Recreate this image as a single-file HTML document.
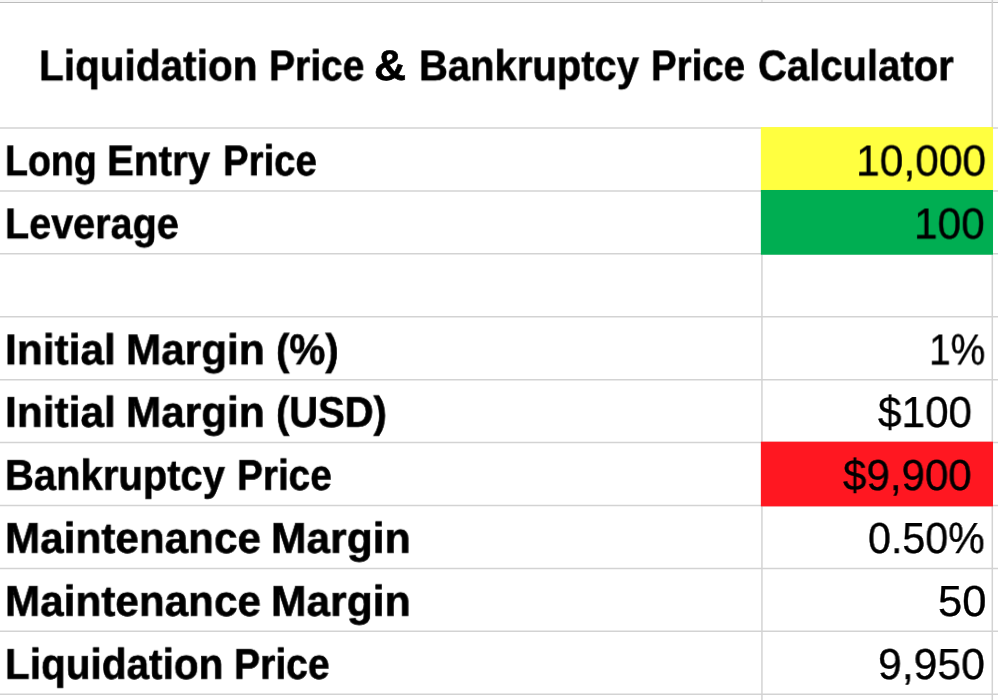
<!DOCTYPE html>
<html><head><meta charset="utf-8"><style>
html,body{margin:0;padding:0;background:#fff;}
body{width:998px;height:700px;position:relative;overflow:hidden;font-family:"Liberation Sans",sans-serif;color:#000;}
.t{position:absolute;white-space:nowrap;line-height:1;text-rendering:geometricPrecision;transform-origin:0 50%;will-change:transform;}
.t{-webkit-text-stroke:0.4px #000;}
.b{font-weight:bold;-webkit-text-stroke:0.6px #000;}
.f{position:absolute;left:0;top:0;}
</style></head><body>

<svg class="f" width="998" height="700"><rect x="0" y="0" width="998" height="2" fill="#f6f6f6"/><rect x="0" y="2" width="998" height="1" fill="#bcbcbc"/><line x1="0" y1="127.97" x2="998" y2="127.97" stroke="#d3d3d3" stroke-width="1.5"/><line x1="0" y1="190.89" x2="998" y2="190.89" stroke="#d3d3d3" stroke-width="1.5"/><line x1="0" y1="253.81" x2="998" y2="253.81" stroke="#d3d3d3" stroke-width="1.5"/><line x1="0" y1="316.73" x2="998" y2="316.73" stroke="#d3d3d3" stroke-width="1.5"/><line x1="0" y1="379.65" x2="998" y2="379.65" stroke="#d3d3d3" stroke-width="1.5"/><line x1="0" y1="442.57" x2="998" y2="442.57" stroke="#d3d3d3" stroke-width="1.5"/><line x1="0" y1="505.49" x2="998" y2="505.49" stroke="#d3d3d3" stroke-width="1.5"/><line x1="0" y1="568.41" x2="998" y2="568.41" stroke="#d3d3d3" stroke-width="1.5"/><line x1="0" y1="631.33" x2="998" y2="631.33" stroke="#d3d3d3" stroke-width="1.5"/><line x1="0" y1="694.25" x2="998" y2="694.25" stroke="#d3d3d3" stroke-width="1.5"/><line x1="761.94" y1="0" x2="761.94" y2="2" stroke="#d8d8d8" stroke-width="1.5"/><line x1="761.94" y1="127.97" x2="761.94" y2="700" stroke="#d3d3d3" stroke-width="1.5"/><line x1="992.3" y1="0" x2="992.3" y2="700" stroke="#d3d3d3" stroke-width="1.5"/><rect x="760.86" y="127.07" width="232.14" height="64.72" fill="#ffff40"/><rect x="760.86" y="189.99" width="232.14" height="64.72" fill="#00ae52"/><rect x="760.86" y="441.67" width="232.14" height="64.72" fill="#ff1721"/></svg>
<div class="t b" style="left:38.64px;top:45px;font-size:43.0px;transform:translateY(0.30px) scaleX(0.9426)">Liquidation</div>
<div class="t b" style="left:268.55px;top:45px;font-size:43.0px;transform:translateY(0.30px) scaleX(0.9075)">Price</div>
<div class="t b" style="left:374.38px;top:45px;font-size:43.0px;transform:translateY(0.30px) scaleX(1.0352)">&amp;</div>
<div class="t b" style="left:419.18px;top:45px;font-size:43.0px;transform:translateY(0.30px) scaleX(0.9294)">Bankruptcy</div>
<div class="t b" style="left:651.08px;top:45px;font-size:43.0px;transform:translateY(0.30px) scaleX(0.8946)">Price</div>
<div class="t b" style="left:757.62px;top:45px;font-size:43.0px;transform:translateY(0.30px) scaleX(0.9311)">Calculator</div>
<div class="t b" style="left:5.35px;top:140px;font-size:43.0px;transform:translateY(0.30px) scaleX(0.8744)">Long</div>
<div class="t b" style="left:107.25px;top:140px;font-size:43.0px;transform:translateY(0.30px) scaleX(0.9381)">Entry</div>
<div class="t b" style="left:222.59px;top:140px;font-size:43.0px;transform:translateY(0.30px) scaleX(0.8926)">Price</div>
<div class="t b" style="left:5.21px;top:203px;font-size:43.0px;transform:translateY(0.30px) scaleX(0.9197)">Leverage</div>
<div class="t b" style="left:5.01px;top:329px;font-size:43.0px;transform:translateY(0.30px) scaleX(0.9864)">Initial</div>
<div class="t b" style="left:125.91px;top:329px;font-size:43.0px;transform:translateY(0.30px) scaleX(0.9838)">Margin</div>
<div class="t b" style="left:276.41px;top:329px;font-size:43.0px;transform:translateY(0.30px) scaleX(0.9388)">(%)</div>
<div class="t b" style="left:5.01px;top:391px;font-size:43.0px;transform:translateY(0.80px) scaleX(0.9864)">Initial</div>
<div class="t b" style="left:125.91px;top:391px;font-size:43.0px;transform:translateY(0.80px) scaleX(0.9838)">Margin</div>
<div class="t b" style="left:276.43px;top:391px;font-size:43.0px;transform:translateY(0.80px) scaleX(0.9285)">(USD)</div>
<div class="t b" style="left:5.18px;top:454px;font-size:43.0px;transform:translateY(0.80px) scaleX(0.9294)">Bankruptcy</div>
<div class="t b" style="left:236.96px;top:454px;font-size:43.0px;transform:translateY(0.80px) scaleX(0.9016)">Price</div>
<div class="t b" style="left:5.02px;top:517px;font-size:43.0px;transform:translateY(0.80px) scaleX(0.9828)">Maintenance</div>
<div class="t b" style="left:271.49px;top:517px;font-size:43.0px;transform:translateY(0.80px) scaleX(0.9904)">Margin</div>
<div class="t b" style="left:5.02px;top:580px;font-size:43.0px;transform:translateY(0.80px) scaleX(0.9828)">Maintenance</div>
<div class="t b" style="left:271.49px;top:580px;font-size:43.0px;transform:translateY(0.80px) scaleX(0.9904)">Margin</div>
<div class="t b" style="left:5.14px;top:643px;font-size:43.0px;transform:translateY(0.80px) scaleX(0.9421)">Liquidation</div>
<div class="t b" style="left:233.64px;top:643px;font-size:43.0px;transform:translateY(0.80px) scaleX(0.9095)">Price</div>
<div class="t" style="left:856.37px;top:140px;font-size:43.5px;transform:translateY(0.50px) scaleX(0.9780)">10,000</div>
<div class="t" style="left:914.38px;top:203px;font-size:43.5px;transform:translateY(0.50px) scaleX(0.9730)">100</div>
<div class="t" style="left:929.14px;top:329px;font-size:43.5px;transform:translateY(0.50px) scaleX(0.8937)">1%</div>
<div class="t" style="left:878.08px;top:392px;font-size:43.5px;transform:translateY(0.00px) scaleX(0.9714)">$100</div>
<div class="t" style="left:843.08px;top:455px;font-size:43.5px;transform:translateY(0.00px) scaleX(0.9672)">$9,900</div>
<div class="t" style="left:868.09px;top:518px;font-size:43.5px;transform:translateY(0.00px) scaleX(0.9459)">0.50%</div>
<div class="t" style="left:938.00px;top:581px;font-size:43.5px;transform:translateY(0.00px) scaleX(0.9903)">50</div>
<div class="t" style="left:877.91px;top:644px;font-size:43.5px;transform:translateY(0.00px) scaleX(0.9810)">9,950</div>
</body></html>
